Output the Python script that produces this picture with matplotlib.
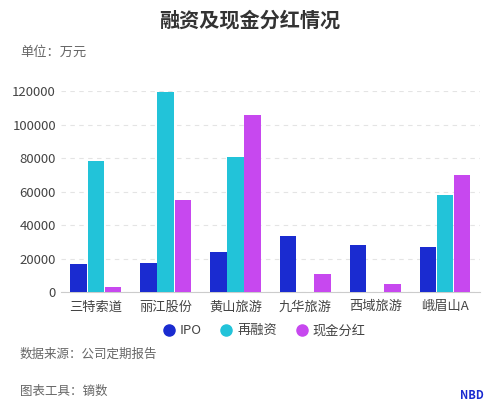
import matplotlib
matplotlib.use("Agg")
import matplotlib.pyplot as plt
from matplotlib.lines import Line2D
import numpy as np

plt.rcParams['font.family'] = ['Noto Sans CJK SC', 'DejaVu Sans']

categories = ['三特索道', '丽江股份', '黄山旅游', '九华旅游', '西域旅游', '峨眉山A']
ipo = [17000, 17500, 24000, 33500, 28000, 27000]
refin = [78500, 119500, 80500, 0, 0, 58000]
dividend = [3000, 55000, 105500, 10500, 4500, 70000]
series_names = ['IPO', '再融资', '现金分红']
colors = ['#1a2bd0', '#22c3d9', '#c748ef']

fig = plt.figure(figsize=(4.99, 4.16), dpi=100)
ax = fig.add_axes([0.122, 0.298, 0.84, 0.483])
x = np.arange(len(categories))
w = 0.235
for i, (vals, c, n) in enumerate(zip([ipo, refin, dividend], colors, series_names)):
    ax.bar(x + (i - 1) * (w + 0.01), vals, width=w, color=c, label=n, zorder=3)
ax.set_xlim(-0.5, len(categories) - 0.5)
ax.set_ylim(0, 120000)
ax.set_yticks(range(0, 120001, 20000))
ax.set_xticks(x)
ax.set_xticklabels(categories)
ax.tick_params(axis='both', labelsize=9.5, colors='#444444', length=0)
ax.tick_params(axis='x', pad=6)
ax.grid(axis='y', color='#e4e4e4', linestyle=(0, (4, 4)), linewidth=0.8, zorder=0)
for s in ['top', 'right', 'left']:
    ax.spines[s].set_visible(False)
ax.spines['bottom'].set_color('#cccccc')

fig.text(0.5, 0.935, '融资及现金分红情况', ha='center', fontsize=14.5, fontweight='bold', color='#333333')
fig.text(0.04, 0.865, '单位：万元', fontsize=9.5, color='#666666')
handles = [Line2D([], [], marker='o', linestyle='', color=c, markersize=8) for c in colors]
fig.legend(handles, series_names, loc='center', bbox_to_anchor=(0.53, 0.205), ncol=3, frameon=False,
           fontsize=9.5, handlelength=0.8, columnspacing=1.5, handletextpad=0.4, labelcolor='#444444')
fig.text(0.04, 0.14, '数据来源：公司定期报告', fontsize=9, color='#666666')
fig.text(0.04, 0.05, '图表工具：镝数', fontsize=9, color='#666666')
fig.text(0.945, 0.04, 'NBD', fontsize=8, fontweight='bold', color='#1a2bd0', ha='center')
fig.savefig('out.png', dpi=100, facecolor='white')
